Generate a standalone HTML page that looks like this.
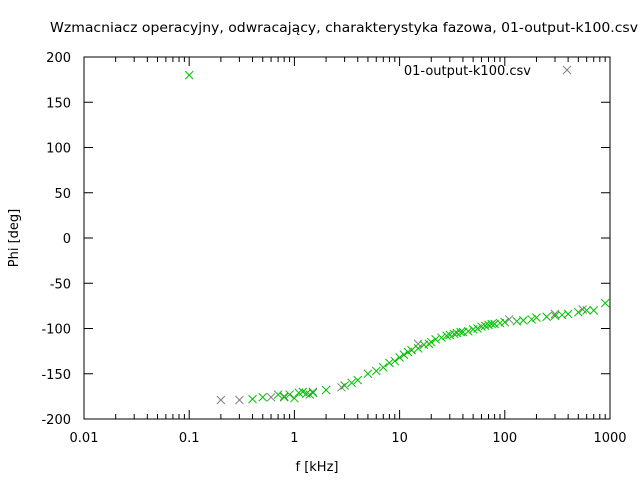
<!DOCTYPE html>
<html><head><meta charset="utf-8"><style>
body{margin:0;background:#fff;}
text{font-family:"DejaVu Sans","Liberation Sans",sans-serif;font-size:13px;fill:#000;}
</style></head><body>
<svg id="chart" width="640" height="480" xmlns="http://www.w3.org/2000/svg">
<text x="344" y="32" text-anchor="middle" textLength="588" lengthAdjust="spacingAndGlyphs">Wzmacniacz operacyjny, odwracający, charakterystyka fazowa, 01-output-k100.csv</text>
<text x="317" y="471" text-anchor="middle">f [kHz]</text>
<text x="18" y="238" text-anchor="middle" transform="rotate(-90 18 238)">Phi [deg]</text>
<g id="axes"></g>
<g id="marks"></g>
<text x="531" y="75" text-anchor="end">01-output-k100.csv</text>
<g stroke="#808080" stroke-width="1"><line x1="563" y1="66" x2="571" y2="74"/><line x1="563" y1="74" x2="571" y2="66"/></g>
</svg>
<script>
const xTicks=[0.01,0.1,1,10,100,1000];
const xTickLabels=["0.01","0.1","1","10","100","1000"];
const yTicks=[-200,-150,-100,-50,0,50,100,150,200];
const greenF=[0.1,0.4,0.5,0.7,0.8,0.9,1.0,1.1,1.2,1.3,1.4,1.5,2,3,3.5,4,5,6,7,8,9,10,11,12,13,15,17,19,20,22,25,28,30,33,35,38,40,45,50,55,60,65,70,75,80,90,100,130,150,180,200,250,300,350,400,500,600,700,900];
const greenPhi=[180,-178,-176,-173,-176,-173,-177,-171,-170,-172,-173,-171,-168,-163,-160,-157,-150,-147,-143,-138,-136,-132,-129,-126,-124,-122,-118,-117,-115,-112,-110,-108,-107,-106,-105,-104,-104,-103,-101,-100,-98,-97,-96,-95,-95,-94,-93,-92,-91,-90,-88,-87,-86,-85,-84,-82,-80,-80,-72];
const greyF=[0.2,0.3,0.6,0.8,1.5,2.8,15,110,300,550];
const greyPhi=[-179,-179,-176,-175,-170,-165,-117,-90,-84,-79];
const L=84,R=610,T=57,B=419;
const xs=f=>L+(Math.log10(f)+2)/5*(R-L);
const ys=v=>B-(v+200)/400*(B-T);
const NS="http://www.w3.org/2000/svg";
function mk(tag,attrs,parent){const e=document.createElementNS(NS,tag);for(const k in attrs)e.setAttribute(k,attrs[k]);parent.appendChild(e);return e;}
const ax=document.getElementById('axes');
const frame=mk('rect',{x:L,y:T,width:R-L,height:B-T,fill:'none',stroke:'#000','stroke-width':1},ax);


xTicks.forEach((t,i)=>{const x=xs(t);
mk('line',{x1:x,y1:B,x2:x,y2:B-9,stroke:'#000'},ax);mk('line',{x1:x,y1:T,x2:x,y2:T+9,stroke:'#000'},ax);
if(i<xTicks.length-1)for(let m=2;m<10;m++){const xm=xs(t*m);mk('line',{x1:xm,y1:B,x2:xm,y2:B-5,stroke:'#000'},ax);mk('line',{x1:xm,y1:T,x2:xm,y2:T+5,stroke:'#000'},ax);}
const tx=mk('text',{x:x,y:B+23,'text-anchor':'middle'},ax);tx.textContent=xTickLabels[i];

});
yTicks.forEach(t=>{const y=ys(t);
mk('line',{x1:L,y1:y,x2:L+9,y2:y,stroke:'#000'},ax);mk('line',{x1:R,y1:y,x2:R-9,y2:y,stroke:'#000'},ax);
const tx=mk('text',{x:L-13,y:y+5,'text-anchor':'end'},ax);tx.textContent=String(t);

});
const mg=document.getElementById('marks');
function cross(f,p,col){const x=xs(f),y=ys(p);const g=mk('g',{stroke:col,'stroke-width':1},mg);


mk('line',{x1:x-4,y1:y-4,x2:x+4,y2:y+4},g);mk('line',{x1:x-4,y1:y+4,x2:x+4,y2:y-4},g);}
greyF.forEach((f,i)=>cross(f,greyPhi[i],'#808080'));
greenF.forEach((f,i)=>cross(f,greenPhi[i],'#00c000'));
</script>
</body></html>
